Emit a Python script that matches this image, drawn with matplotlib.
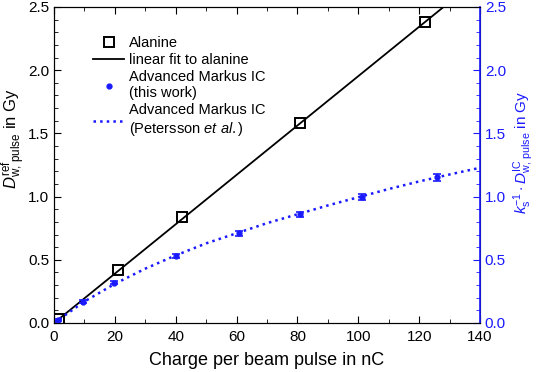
import matplotlib.pyplot as plt
import numpy as np
from matplotlib.ticker import MultipleLocator

plt.rcParams['font.family'] = ['Liberation Sans', 'DejaVu Sans']
plt.rcParams['mathtext.fontset'] = 'custom'
plt.rcParams['mathtext.rm'] = 'Liberation Sans'
plt.rcParams['mathtext.it'] = 'Liberation Sans:italic'

# Alanine reference dose
q_ala = [1.5, 21, 42, 81, 122]
d_ala = [0.03, 0.42, 0.835, 1.58, 2.385]
fit_slope = 0.01953
fit_q = [0, 140]

# Advanced Markus IC (this work)
q_ic = [1.4, 9.4, 19.7, 40.1, 60.7, 81, 101.2, 125.9]
d_ic = [0.025, 0.17, 0.32, 0.53, 0.71, 0.862, 0.995, 1.152]
err_ic = [0.01, 0.01, 0.015, 0.015, 0.02, 0.02, 0.025, 0.025]

# Advanced Markus IC (Petersson et al.)
q_pet = [0, 10, 20, 30, 40, 50, 60, 70, 80, 90, 100, 110, 120, 130, 140]
d_pet = [0, 0.17, 0.31, 0.43, 0.535, 0.63, 0.71, 0.79, 0.86, 0.93, 0.995, 1.06, 1.12, 1.175, 1.228]

blue = '#1a1aff'

fig = plt.figure(figsize=(5.36, 3.72), dpi=100)
ax = fig.add_axes([54/536, 1-323/372, 426/536, 316/372])
ax2 = ax.twinx()

h1, = ax.plot(q_ala, d_ala, 's', mfc='none', mec='black', ms=6.5, mew=1.4, zorder=4)
h2, = ax.plot(fit_q, [fit_slope*q for q in fit_q], '-', color='black', lw=1.3)
h3 = ax2.errorbar(q_ic, d_ic, yerr=err_ic, fmt='o', color=blue, ms=3.5,
                  capsize=3, elinewidth=1.2, capthick=1.2)
h4, = ax2.plot(q_pet, d_pet, ':', color=blue, lw=1.8)

for a in (ax, ax2):
    a.set_xlim(0, 140)
    a.set_ylim(0, 2.5)
    a.yaxis.set_major_locator(MultipleLocator(0.5))
    a.yaxis.set_minor_locator(MultipleLocator(0.1))
ax.xaxis.set_major_locator(MultipleLocator(20))
ax.xaxis.set_minor_locator(MultipleLocator(10))

ax.tick_params(which='both', direction='in', labelsize=11, top=True, labeltop=False)
ax.tick_params(which='major', length=5)
ax.tick_params(which='minor', length=3)
ax.tick_params(axis='x', pad=5)
ax.tick_params(axis='y', which='both', right=False)
ax2.tick_params(which='both', direction='in', labelsize=11, colors=blue)
ax2.tick_params(which='major', length=5)
ax2.tick_params(which='minor', length=3)
ax2.spines['right'].set_color(blue)
ax2.spines['right'].set_linewidth(1.2)

ax.set_xlabel('Charge per beam pulse in nC', fontsize=13, labelpad=6)
ax.set_ylabel(r'$\mathit{D}^{\mathrm{ref}}_{\mathrm{w,\,pulse}}$ in Gy', fontsize=12)
ax.yaxis.set_label_coords(-0.062, 0.585)
ax2.set_ylabel(r'$\mathit{k}_{\mathrm{s}}^{\mathrm{-1}}\cdot\mathit{D}^{\mathrm{IC}}_{\mathrm{w,\,pulse}}$ in Gy',
               fontsize=11, color=blue)
ax2.yaxis.set_label_coords(1.075, 0.54)

ax.legend(handles=[h1, h2, h3[0], h4],
          labels=['Alanine', 'linear fit to alanine', 'Advanced Markus IC\n(this work)',
                  'Advanced Markus IC\n(Petersson $et$ $al.$)'],
          loc='upper left', bbox_to_anchor=(0.075, 0.93), borderpad=0,
          frameon=False, fontsize=10.5, handlelength=2.1, labelspacing=0.2,
          handletextpad=0.35)

fig.savefig('out.png', dpi=100)
